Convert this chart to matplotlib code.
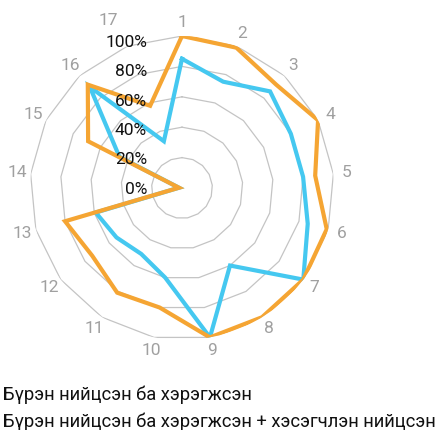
import numpy as np
import matplotlib
matplotlib.use("Agg")
import matplotlib.pyplot as plt
from matplotlib.transforms import offset_copy
from matplotlib.lines import Line2D

plt.rcParams['font.family'] = ['Roboto', 'DejaVu Sans']

categories = [str(i) for i in range(1, 18)]
full_label = "Бүрэн нийцсэн ба хэрэгжсэн"
partial_label = "Бүрэн нийцсэн ба хэрэгжсэн + хэсэгчлэн нийцсэн"
full_vals = [85, 75, 86, 80, 80, 86, 100, 60, 100, 60, 51, 54, 59, 2, 46, 90, 33]
partial_vals = [100, 99, 92, 100, 88, 99, 100, 100, 100, 80, 81, 74, 80, 2, 69, 92, 58]
r_ticks = [0, 20, 40, 60, 80, 100]
r_tick_labels = ["0%", "20%", "40%", "60%", "80%", "100%"]

W, H = 436, 430
fig = plt.figure(figsize=(W / 100, H / 100), dpi=100)
cx, cy, R = 182, 188, 152
ax = fig.add_axes([(cx - R) / W, (H - cy - R) / H, 2 * R / W, 2 * R / H], projection='polar')
ax.set_theta_offset(np.pi / 2)
ax.set_theta_direction(-1)
ax.set_ylim(0, 100)
ax.set_axis_off()

n = len(categories)
theta = np.linspace(0, 2 * np.pi, n, endpoint=False)
tc = np.append(theta, theta[0])

grid_color = '#c4c4c4'
for rv in r_ticks[1:]:
    ax.plot(tc, [rv] * (n + 1), color=grid_color, lw=0.9, zorder=1)

blue = '#45c8f0'
orange = '#f5a533'
ax.plot(tc, full_vals + full_vals[:1], color=blue, lw=3.0, zorder=3,
        solid_joinstyle='miter', label=full_label)
ax.plot(tc, partial_vals + partial_vals[:1], color=orange, lw=3.0, zorder=4,
        solid_joinstyle='miter', label=partial_label)

for i, (t, lab) in enumerate(zip(theta, categories)):
    rr = 109
    tt = t
    if i == n - 1:
        # the last label sits further out, clear of the "100%" tick label
        rr = 120
        tt = t - np.deg2rad(2.5)
    ax.text(tt, rr, lab, ha='center', va='center', color='#a0a0a0', fontsize=12.5,
            zorder=5)

for rv, lab in zip(r_ticks, r_tick_labels):
    tr = offset_copy(ax.transData, fig=fig, x=-35, y=-1 - 0.055 * rv, units='dots')
    ax.text(0, rv, lab, ha='right', va='center', color='#111111', fontsize=12.5,
            transform=tr, zorder=6)

handles = [Line2D([], [], color=blue, lw=0), Line2D([], [], color=orange, lw=0)]
leg = fig.legend(handles, [full_label, partial_label], loc='upper left',
                 bbox_to_anchor=(3 / W, (H - 386) / H), frameon=False,
                 handlelength=0, handletextpad=0, borderaxespad=0, borderpad=0,
                 labelspacing=0.46, fontsize=13.2)
for t in leg.get_texts():
    t.set_color('#111111')

fig.savefig('out.png', dpi=100)
